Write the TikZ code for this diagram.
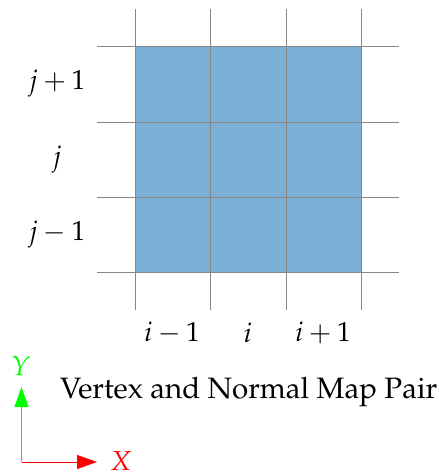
\documentclass[tikz,border=0pt]{standalone}
\usepackage[T1]{fontenc}
\usepackage{mathpazo}
\usetikzlibrary{arrows.meta}
\definecolor{cellblue}{RGB}{123,175,213}
\definecolor{gridgray}{RGB}{135,135,135}
\tikzset{
  gridline/.style={draw=gridgray,line width=1pt},
  lab/.style={inner sep=0pt,font=\fontsize{27.5}{33}\selectfont},
  titlelab/.style={inner sep=0pt,font=\fontsize{29.5}{35}\selectfont},
  axis/.style={line width=1pt,-{Triangle[length=20pt,width=14pt]}}
}
\begin{document}
\begin{tikzpicture}[x=1pt,y=-1pt]
\useasboundingbox (0,0) rectangle (439,475);
\fill[cellblue] (135,46) rectangle (361,272);
\foreach \x in {135,210.5,286,361}
  \draw[gridline] (\x,9) -- (\x,310);
\foreach \y in {46,122,197.5,272.5}
  \draw[gridline] (97,\y) -- (399,\y);
\node[lab] (jp) at (57,84) {$j+1$};
\node[lab] (j) at (57,159.5) {$j$};
\node[lab] (jm) at (57,235) {$j-1$};
\node[lab] (im) at (172,333) {$i-1$};
\node[lab] (i) at (248,333) {$i$};
\node[lab] (ip) at (323,333) {$i+1$};
\node[titlelab,anchor=west] (title) at (60,392) {Vertex and Normal Map Pair};
\coordinate (o) at (21.5,462);
\coordinate (ytip) at (21.5,387);
\coordinate (xtip) at (97,462);
\draw[axis,green] (o) -- (ytip);
\draw[axis,red] (o) -- (xtip);
\node[lab,text=green] (ylab) at (21,366) {$Y$};
\node[lab,text=red] (xlab) at (121,461) {$X$};
\end{tikzpicture}
\end{document}
